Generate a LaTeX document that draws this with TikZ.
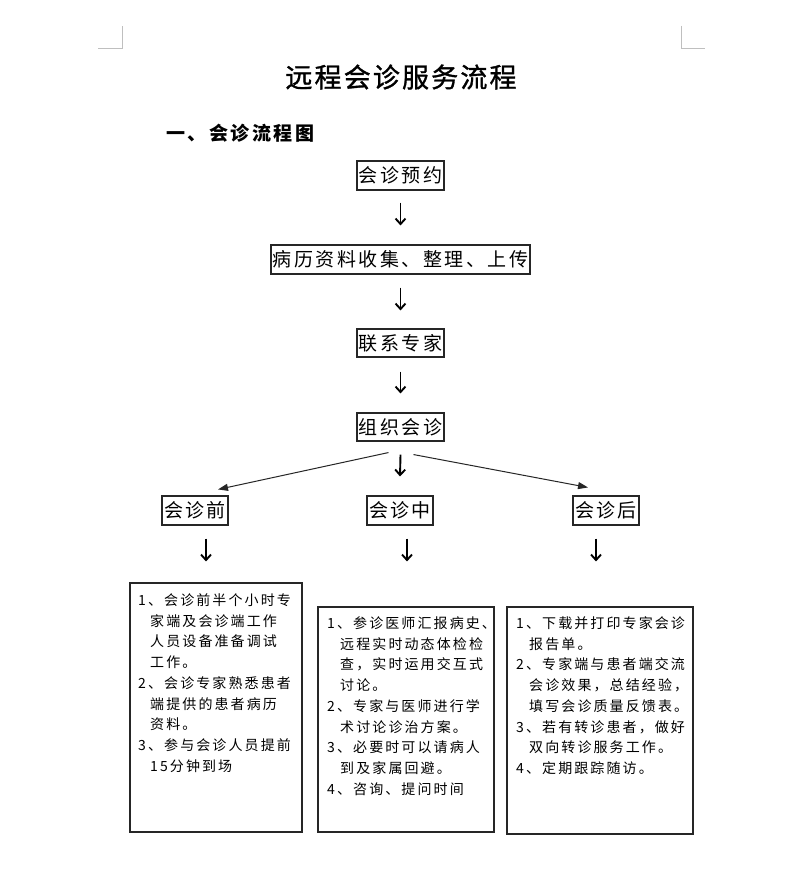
\documentclass[tikz,border=0pt]{standalone}
\usepackage{fontspec}
\newfontfamily\cjk[LetterSpace=13]{Noto Sans CJK SC}
\newfontfamily\cjktitle[LetterSpace=8,FakeBold=1.2]{Noto Sans CJK SC}
\newfontfamily\cjkbox[LetterSpace=15]{Noto Sans CJK SC}
\usetikzlibrary{arrows.meta,calc}
\tikzset{
  stepbox/.style={draw=black!85, line width=1.1pt, inner sep=0pt, minimum height=29pt,
    font=\cjk\fontsize{19}{19}\selectfont},
  bigbox/.style={draw=black!85, line width=1.1pt, inner sep=0pt},
  darr/.style={-{Straight Barb[length=5.5pt,width=10pt]}, line width=1.9pt},
  diag/.style={-{Triangle[length=10pt,width=7pt]}, line width=1pt, draw=black!85},
  listtext/.style={anchor=north west, inner sep=0pt, align=left,
    font=\cjkbox\fontsize{14}{20.7}\selectfont},
  cornermark/.style={draw=black!25, line width=0.8pt}
}
\begin{document}
\begin{tikzpicture}[x=1pt,y=-1pt]
\useasboundingbox[fill=white] (0,0) rectangle (800,872);
% corner marks
\draw[cornermark] (98,48) -- (122,48) -- (122,26);
\draw[cornermark] (681,26) -- (681,48) -- (705,48);
% titles
\node[font=\cjktitle\fontsize{27}{27}\selectfont] (title) at (401,77) {远程会诊服务流程};
\node[anchor=west, inner sep=0pt, font=\cjk\bfseries\fontsize{19}{19}\selectfont] (sub) at (166,133) {一、会诊流程图};
% main chain
\node[stepbox, minimum width=87pt] (a) at (400.5,175.5) {会诊预约};
\node[stepbox, minimum width=259pt] (b) at (400.5,259.5) {病历资料收集、整理、上传};
\node[stepbox, minimum width=87pt, minimum height=28pt] (c) at (400.5,343) {联系专家};
\node[stepbox, minimum width=87pt, minimum height=28pt] (d) at (400.5,427) {组织会诊};
\node[stepbox, minimum width=66pt] (bq) at (195,510.5) {会诊前};
\node[stepbox, minimum width=66pt] (bz) at (400,510.5) {会诊中};
\node[stepbox, minimum width=66pt] (bh) at (606,510.5) {会诊后};
% big boxes
\node[bigbox, minimum width=172pt, minimum height=249pt] (bl) at (216,707.5) {};
\node[bigbox, minimum width=176pt, minimum height=225pt] (bm) at (406,719.5) {};
\node[bigbox, minimum width=186pt, minimum height=227pt] (br) at (600,720.5) {};
% box texts
\node[listtext] (tl) at (138,593.5) {1、会诊前半个小时专\\
\hspace*{12pt}家端及会诊端工作\\
\hspace*{12pt}人员设备准备调试\\
\hspace*{12pt}工作。\\
2、会诊专家熟悉患者\\
\hspace*{12pt}端提供的患者病历\\
\hspace*{12pt}资料。\\
3、参与会诊人员提前\\
\hspace*{12pt}15分钟到场};
\node[listtext] (tm) at (327,616.5) {1、参诊医师汇报病史、\\
\hspace*{13pt}远程实时动态体检检\\
\hspace*{13pt}查，实时运用交互式\\
\hspace*{13pt}讨论。\\
2、专家与医师进行学\\
\hspace*{13pt}术讨论诊治方案。\\
3、必要时可以请病人\\
\hspace*{13pt}到及家属回避。\\
4、咨询、提问时间};
\node[listtext] (tr) at (516,616.5) {1、下载并打印专家会诊\\
\hspace*{13pt}报告单。\\
2、专家端与患者端交流\\
\hspace*{13pt}会诊效果，总结经验，\\
\hspace*{13pt}填写会诊质量反馈表。\\
3、若有转诊患者，做好\\
\hspace*{13pt}双向转诊服务工作。\\
4、定期跟踪随访。};
% vertical arrows
\draw[darr] ($(a.south)+(0,12)$) -- ($(b.north)+(0,-19)$);
\draw[darr] ($(b.south)+(0,13)$) -- ($(c.north)+(0,-18)$);
\draw[darr] ($(c.south)+(0,14)$) -- ($(d.north)+(0,-19)$);
\draw[darr] ($(d.south)+(0,13)$) -- ($(bz.north)+(0,-19)$);
\draw[darr] ($(bq.south)+(11,13)$) -- ($(bq.south |- bl.north)+(11,-21)$);
\draw[darr] ($(bz.south)+(7,13)$) -- ($(bz.south |- bm.north)+(7,-45)$);
\draw[darr] ($(bh.south)+(-10,13)$) -- ($(bh.south |- br.north)+(-10,-45)$);
% diagonal arrows
\draw[diag] ($(d.south)+(-12,11)$) -- ($(bq.north)+(23,-6)$);
\draw[diag] ($(d.south)+(13,13)$) -- ($(bh.north)+(-18,-8)$);
\end{tikzpicture}
\end{document}
